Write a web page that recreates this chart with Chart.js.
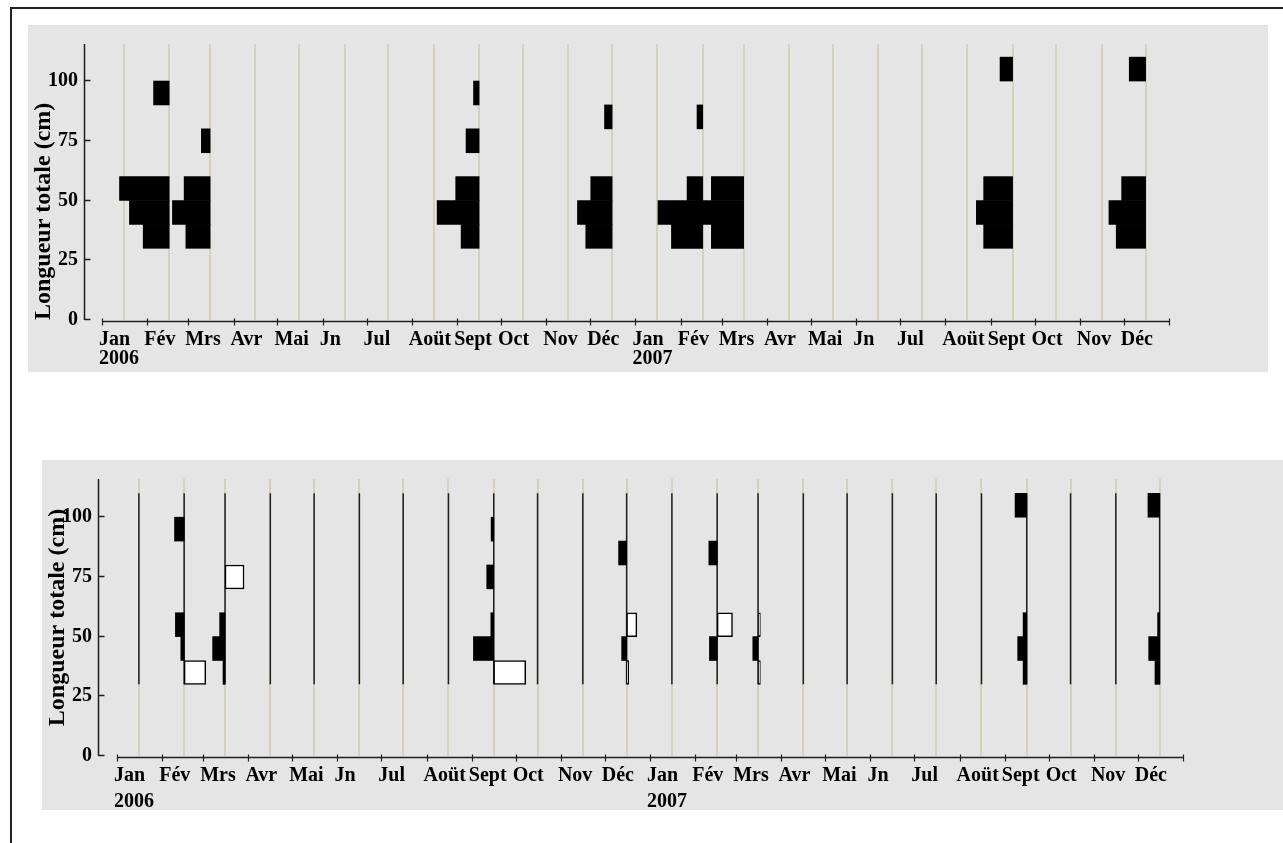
<!DOCTYPE html>
<html lang="fr">
<head>
<meta charset="utf-8">
<title>Longueur totale par mois, 2006–2007</title>
<script src="https://cdn.jsdelivr.net/npm/chart.js@4/dist/chart.umd.min.js"></script>
<style>
  html, body { margin: 0; padding: 0; background: #fff; }
  body { width: 1283px; height: 843px; position: relative; overflow: hidden; }
  .frame { position: absolute; left: 10px; top: 7px; width: 1400px; height: 900px;
           border-top: 2px solid #222; border-left: 2px solid #222; }
  .panel { position: absolute; background: #e5e5e5; }
  #p1 { left: 28px; top: 25px; width: 1240px; height: 347px; }
  #p2 { left: 42px; top: 460px; width: 1241px; height: 350px; }
  canvas { display: block; }
</style>
</head>
<body>
<div class="frame"></div>
<div class="panel" id="p1"><canvas id="c1" width="1240" height="347"></canvas></div>
<div class="panel" id="p2"><canvas id="c2" width="1241" height="350"></canvas></div>
<script>
// ---- time axis: month starts (ticks) and their labels ----
const tickDates = [
  '2006-01-01','2006-02-01','2006-03-01','2006-04-01','2006-05-01','2006-06-01',
  '2006-07-01','2006-08-01','2006-09-01','2006-10-01','2006-11-01','2006-12-01',
  '2007-01-01','2007-02-01','2007-03-01','2007-04-01','2007-05-01','2007-06-01',
  '2007-07-01','2007-08-01','2007-09-01','2007-10-01','2007-11-01','2007-12-01',
  '2008-01-01'
];
const tickLabels = [
  ['Jan','2006'],'Fév','Mrs','Avr','Mai','Jn','Jul','Aoüt','Sept','Oct','Nov','Déc',
  ['Jan','2007'],'Fév','Mrs','Avr','Mai','Jn','Jul','Aoüt','Sept','Oct','Nov','Déc',''
];

// ---- monthly sampling dates (one vertical line each) ----
const sampleDates = [
  '2006-01-16','2006-02-16','2006-03-16','2006-04-16','2006-05-16','2006-06-16',
  '2006-07-16','2006-08-16','2006-09-16','2006-10-16','2006-11-16','2006-12-16',
  '2007-01-16','2007-02-16','2007-03-16','2007-04-16','2007-05-16','2007-06-16',
  '2007-07-16','2007-08-16','2007-09-16','2007-10-16','2007-11-16','2007-12-16'
];

// ---- sampling months with catches ----
const catchDates = ['2006-02-16','2006-03-16','2006-09-16','2006-12-16',
                    '2007-02-16','2007-03-16','2007-09-16','2007-12-16'];
// lower bound of each 10 cm length class
const lengthClasses = [30, 40, 50, 70, 80, 90, 100];

// upper panel: all fish, bar length per class (days along the time axis)
const all30  = [17.8, 16.6, 12.3, 18.0, 21.4, 22.1, 19.8, 20.1];
const all40  = [27.2, 25.8, 28.7, 23.7, 30.6, 30.0, 24.8, 25.1];
const all50  = [34.0, 17.8, 16.0, 14.6, 10.7, 22.1, 19.8, 16.4];
const all70  = [0, 6.0, 8.9, 0, 0, 0, 0, 0];
const all80  = [0, 0, 0, 5.2, 3.9, 0, 0, 0];
const all90  = [10.7, 0, 3.8, 0, 0, 0, 0, 0];
const all100 = [0, 0, 0, 0, 0, 0, 8.6, 11.2];

// lower panel: filled bars (left of the line)
const filled30  = [0, 1.4, 0, 0, 0, 0, 2.5, 3.2];
const filled40  = [2.3, 8.5, 13.9, 3.4, 5.3, 3.6, 6.2, 7.5];
const filled50  = [6.0, 3.7, 2.0, 0, 0, 0, 2.5, 1.4];
const filled70  = [0, 0, 4.8, 0, 0, 0, 0, 0];
const filled80  = [0, 0, 0, 5.5, 5.7, 0, 0, 0];
const filled90  = [6.6, 0, 1.8, 0, 0, 0, 0, 0];
const filled100 = [0, 0, 0, 0, 0, 0, 8.0, 8.0];

// lower panel: open bars (right of the line)
const open30  = [14.8, 0, 21.9, 1.4, 0, 1.6, 0, 0];
const open40  = [0, 0, 0, 0, 0, 0, 0, 0];
const open50  = [0, 0, 0, 7.0, 10.5, 1.6, 0, 0];
const open70  = [0, 13.0, 0, 0, 0, 0, 0, 0];
const open80  = [0, 0, 0, 0, 0, 0, 0, 0];
const open90  = [0, 0, 0, 0, 0, 0, 0, 0];
const open100 = [0, 0, 0, 0, 0, 0, 0, 0];

const yTicks = [0, 25, 50, 75, 100];

// ---- helpers ----
const T0 = Date.parse('2006-01-01');
const toDay = s => (Date.parse(s) - T0) / 86400000;
const tickDays = tickDates.map(toDay);
const sampleDays = sampleDates.map(toDay);
const catchDays = catchDates.map(toDay);

// horizontal floating bars: side -1 grows left of the sampling line, +1 grows right
function classBars(series, side) {
  const out = [];
  series.forEach((values, k) => {
    const y = lengthClasses[k] + 5;
    values.forEach((v, i) => {
      if (!v) return;
      const d = catchDays[i];
      out.push({ y, x: side < 0 ? [d - v, d] : [d, d + v] });
    });
  });
  return out;
}

// vertical stems from 30 to 110 cm at every sampling date
function stems() {
  const pts = [];
  sampleDays.forEach(d => { pts.push({ x: d, y: 30 }, { x: d, y: 110 }, { x: d, y: null }); });
  return pts;
}

const FONT = 'Liberation Serif, Times New Roman, serif';
const GRID = '#d5d1bd';
const INK = '#1e1e1e';

// axis lines and inward/crossing tick marks
const axisLines = {
  id: 'axisLines',
  afterDatasetsDraw(chart) {
    const { ctx, chartArea: a, scales: { x, y } } = chart;
    ctx.save();
    ctx.strokeStyle = INK;
    ctx.lineWidth = 1.5;
    ctx.beginPath();
    const left = Math.round(a.left) + 0.5;
    ctx.moveTo(left, y.getPixelForValue(y.max));
    ctx.lineTo(left, y.getPixelForValue(0));
    yTicks.forEach(v => {
      const py = Math.round(y.getPixelForValue(v)) - 0.5;
      ctx.moveTo(left, py);
      ctx.lineTo(left + 6, py);
    });
    const by = Math.round(a.bottom) + 1.5;
    ctx.moveTo(x.getPixelForValue(tickDays[0]), by);
    ctx.lineTo(x.getPixelForValue(tickDays[tickDays.length - 1]), by);
    ctx.stroke();
    ctx.lineWidth = 1.2;
    ctx.beginPath();
    tickDays.forEach(v => {
      const px = Math.round(x.getPixelForValue(v)) + 0.5;
      ctx.moveTo(px, by - 3);
      ctx.lineTo(px, by + 4);
    });
    ctx.stroke();
    ctx.restore();
  }
};

function options({ xMin, yMax, titleAlign, padRight, axisHeight, labelPad, labelLine }) {
  const xMax = tickDays[tickDays.length - 1];
  return {
    responsive: false,
    animation: false,
    devicePixelRatio: 1,
    layout: { padding: { left: 0, right: padRight, top: 19, bottom: 0 } },
    plugins: { legend: { display: false }, tooltip: { enabled: false } },
    scales: {
      x: {
        type: 'linear', min: xMin, max: xMax, position: 'bottom', offset: false,
        afterBuildTicks: s => { s.ticks = tickDays.map(v => ({ value: v })); },
        afterFit: s => { s.height = axisHeight; },
        grid: { display: false, drawTicks: false, offset: false },
        border: { display: false },
        ticks: {
          autoSkip: false, maxRotation: 0, minRotation: 0, align: 'start',
          padding: labelPad, labelOffset: -3,
          color: '#000',
          font: { family: FONT, size: 20, weight: 'bold', lineHeight: labelLine },
          callback: (v, i) => tickLabels[i]
        }
      },
      xg: {
        type: 'linear', min: xMin, max: xMax, position: 'bottom', offset: false,
        afterBuildTicks: s => { s.ticks = sampleDays.map(v => ({ value: v })); },
        afterFit: s => { s.height = 0; },
        ticks: { display: false },
        grid: { color: GRID, lineWidth: 2, drawTicks: false, offset: false },
        border: { display: false }
      },
      y: {
        type: 'linear', min: 0, max: yMax, offset: false,
        afterBuildTicks: s => { s.ticks = yTicks.map(v => ({ value: v })); },
        afterFit: s => { s.width = 56; },
        grid: { display: false, drawTicks: false, offset: false },
        border: { display: false },
        ticks: { padding: 6, color: '#000', font: { family: FONT, size: 20, weight: 'bold' } },
        title: {
          display: true, text: 'Longueur totale (cm)', align: titleAlign, color: '#000',
          font: { family: FONT, size: 24, weight: 'bold' }, padding: { top: 1, bottom: 0 }
        }
      }
    }
  };
}

const barCommon = {
  type: 'bar', indexAxis: 'y', grouped: false,
  barPercentage: 1, categoryPercentage: 1,
  xAxisID: 'x', yAxisID: 'y', order: 1
};

// upper panel
new Chart(document.getElementById('c1'), {
  type: 'bar',
  data: {
    datasets: [
      Object.assign({}, barCommon, {
        data: classBars([all30, all40, all50, all70, all80, all90, all100], -1),
        backgroundColor: '#000', borderWidth: 0
      })
    ]
  },
  options: options({ xMin: -12.3, yMax: 115.5, titleAlign: 'start', padRight: 99, axisHeight: 52,
                     labelPad: 11, labelLine: 0.92 }),
  plugins: [axisLines]
});

// lower panel
new Chart(document.getElementById('c2'), {
  type: 'bar',
  data: {
    datasets: [
      {
        type: 'line', data: stems(), borderColor: INK, borderWidth: 1.5,
        pointRadius: 0, spanGaps: false, xAxisID: 'x', yAxisID: 'y', order: 3
      },
      Object.assign({}, barCommon, {
        data: classBars([open30, open40, open50, open70, open80, open90, open100], 1),
        backgroundColor: '#fff', borderColor: '#000', borderWidth: 1.5, borderSkipped: false
      }),
      Object.assign({}, barCommon, {
        data: classBars([filled30, filled40, filled50, filled70, filled80, filled90, filled100], -1),
        backgroundColor: '#000', borderWidth: 0
      })
    ]
  },
  options: options({ xMin: -13, yMax: 116, titleAlign: 'center', padRight: 100, axisHeight: 54,
                     labelPad: 7, labelLine: 1.3 }),
  plugins: [axisLines]
});
</script>
</body>
</html>
